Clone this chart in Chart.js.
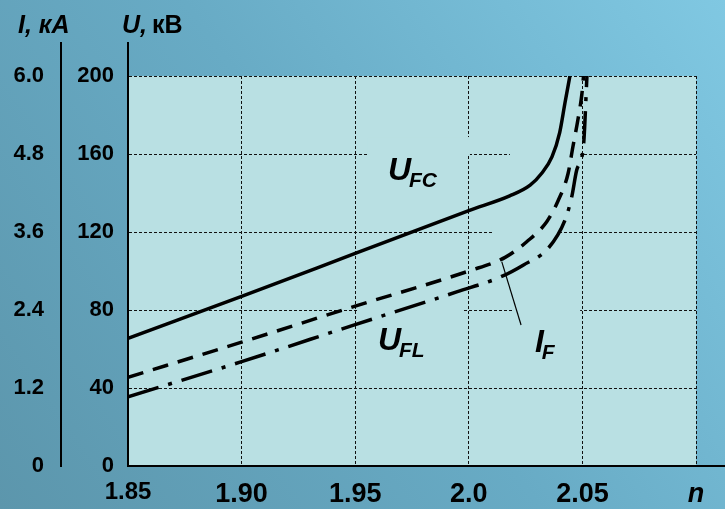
<!DOCTYPE html>
<html>
<head>
<meta charset="utf-8">
<script src="https://cdn.jsdelivr.net/npm/chart.js@4/dist/chart.umd.min.js"></script>
<style>
  html, body { margin: 0; padding: 0; background: #6aaac4; }
  canvas { display: block; }
</style>
</head>
<body>
<canvas id="c" width="725" height="509"></canvas>
<script>
// Multiplication factor n along the horizontal axis
const nTicks = [1.85, 1.90, 1.95, 2.00, 2.05, 2.10];
const nTickLabels = ['1.85', '1.90', '1.95', '2.0', '2.05', 'n'];

// Voltage scale (kV) and the matching current scale (kA)
const uTicks = [0, 40, 80, 120, 160, 200];
const uTickLabels = ['0', '40', '80', '120', '160', '200'];
const iTicks = [0, 1.2, 2.4, 3.6, 4.8, 6.0];
const iTickLabels = ['0', '1.2', '2.4', '3.6', '4.8', '6.0'];

// U_FC — solid curve
const nFC = [1.85, 1.90, 1.95, 2.00, 2.018, 2.027, 2.032, 2.0366, 2.040, 2.0423, 2.0445];
const uFC = [65.5, 87, 109, 131, 138.5, 144, 150, 158.5, 171, 186, 200];

// I_F — dashed curve (read on the voltage grid)
const nIF = [1.85, 1.90, 1.95, 2.00, 2.016, 2.0255, 2.0343, 2.0393, 2.0437, 2.0458, 2.048, 2.0498, 2.0505];
const uIF = [45.5, 63.5, 82, 100, 107, 115, 125.3, 136, 150, 163.6, 177.4, 191, 200];

// U_FL — dash-dot curve
const nFL = [1.85, 1.90, 1.95, 1.995, 2.0137, 2.0239, 2.0349, 2.0423, 2.0453, 2.0475, 2.0505, 2.052];
const uFL = [35.5, 53.5, 72.5, 89.4, 96.8, 103, 111.6, 126, 138, 151.8, 164.6, 200];

const FONT = "'Liberation Sans', Arial, sans-serif";
const PLOT_BG = '#b9e0e3';

// Curve captions: main letter, subscript, anchor in (n, U)
const captions = [
  { main: 'U', sub: 'FC', n: 1.9644, u: 146.7 },
  { main: 'U', sub: 'FL', n: 1.9600, u: 59.5 },
  { main: 'I', sub: 'F',  n: 2.0291, u: 58.5 }
];
// Leader line from the I_F curve to its caption
const leader = { n0: 2.0145, u0: 104.8, n1: 2.0230, u1: 72.3 };
// Opaque caption boxes that interrupt the grid (n0, n1, u0, u1)
const boxes = [
  [1.9552, 2.0005, 168.7, 159.0],
  [2.0181, 2.0490, 163.0, 157.0],
  [2.0102, 2.0393, 123.0, 117.0],
  [1.9508, 1.9970, 83.0, 77.0],
  [2.0195, 2.0490, 83.0, 77.0]
];

const pts = (xs, ys) => xs.map((x, i) => ({ x, y: ys[i] }));

const decor = {
  id: 'decor',
  beforeDraw(chart) {
    const { ctx, width, height, chartArea: a } = chart;
    ctx.save();
    const g = ctx.createLinearGradient(0, height, width, 0);
    g.addColorStop(0, '#5c96ac');
    g.addColorStop(0.5, '#68abc5');
    g.addColorStop(1, '#80c8e2');
    ctx.fillStyle = g;
    ctx.fillRect(0, 0, width, height);
    ctx.fillStyle = PLOT_BG;
    ctx.fillRect(a.left, a.top, a.right - a.left, a.bottom - a.top);
    ctx.restore();
  },
  beforeDatasetsDraw(chart) {
    const { ctx, scales: { x, yU } } = chart;
    ctx.save();
    ctx.fillStyle = PLOT_BG;
    boxes.forEach(([n0, n1, u0, u1]) => {
      const x0 = x.getPixelForValue(n0), x1 = x.getPixelForValue(n1);
      const y0 = yU.getPixelForValue(u0), y1 = yU.getPixelForValue(u1);
      ctx.fillRect(x0, y0, x1 - x0, y1 - y0);
    });
    ctx.restore();
  },
  afterDraw(chart) {
    const { ctx, width, chartArea: a, scales: { x, yU, yI } } = chart;
    ctx.save();
    ctx.strokeStyle = '#000';
    ctx.lineWidth = 2;
    // axis lines carried up to the titles, base line carried to the edge
    ctx.beginPath();
    ctx.moveTo(yI.right, a.top); ctx.lineTo(yI.right, 42);
    ctx.moveTo(yU.right, a.top); ctx.lineTo(yU.right, 42);
    ctx.moveTo(a.right, a.bottom); ctx.lineTo(width, a.bottom);
    ctx.stroke();

    // leader line
    ctx.lineWidth = 1.2;
    ctx.beginPath();
    ctx.moveTo(x.getPixelForValue(leader.n0), yU.getPixelForValue(leader.u0));
    ctx.lineTo(x.getPixelForValue(leader.n1), yU.getPixelForValue(leader.u1));
    ctx.stroke();

    // captions
    ctx.fillStyle = '#000';
    ctx.textBaseline = 'alphabetic';
    ctx.textAlign = 'left';
    captions.forEach(c => {
      const px = x.getPixelForValue(c.n), py = yU.getPixelForValue(c.u);
      ctx.font = `italic bold 32px ${FONT}`;
      ctx.fillText(c.main, px, py);
      const w = ctx.measureText(c.main).width;
      ctx.font = `italic bold 21px ${FONT}`;
      ctx.fillText(c.sub, px + w - 2, py + 7);
    });

    // axis titles
    ctx.font = `italic bold 25px ${FONT}`;
    ctx.fillText('I, кА', 18, 33);
    ctx.fillText('U,', 122, 33);
    const wu = ctx.measureText('U, ').width;
    ctx.font = `bold 25px ${FONT}`;
    ctx.fillText('кВ', 122 + wu - 2, 33);
    ctx.restore();
  }
};

const fixTicks = values => scale => { scale.ticks = values.map(v => ({ value: v })); };

new Chart(document.getElementById('c'), {
  type: 'line',
  data: {
    datasets: [
      { label: 'U_FC', data: pts(nFC, uFC), yAxisID: 'yU', borderColor: '#000', borderWidth: 3.5,
        pointRadius: 0, cubicInterpolationMode: 'monotone', fill: false },
      { label: 'I_F', data: pts(nIF, uIF), yAxisID: 'yU', borderColor: '#000', borderWidth: 3.5,
        borderDash: [16, 10], pointRadius: 0, cubicInterpolationMode: 'monotone', fill: false },
      { label: 'U_FL', data: pts(nFL, uFL), yAxisID: 'yU', borderColor: '#000', borderWidth: 3.5,
        borderDash: [32, 10, 4, 10], pointRadius: 0, cubicInterpolationMode: 'monotone', fill: false }
    ]
  },
  options: {
    responsive: false,
    devicePixelRatio: 1,
    animation: false,
    layout: { padding: { top: 76, right: 29, left: 0, bottom: 0 } },
    plugins: { legend: { display: false }, tooltip: { enabled: false } },
    scales: {
      x: {
        type: 'linear', min: 1.85, max: 2.10,
        afterBuildTicks: fixTicks(nTicks),
        afterFit: s => { s.height = 43; },
        grid: { color: '#111', lineWidth: 1, drawTicks: false },
        border: { display: true, color: '#000', width: 2, dash: [3, 2] },
        ticks: {
          color: '#000', padding: 12, maxRotation: 0, autoSkip: false,
          callback: (v, i) => nTickLabels[i],
          font: ctx => ({
            family: FONT,
            size: ctx.index === 0 ? 24 : 27,
            weight: 'bold',
            style: ctx.index === nTicks.length - 1 ? 'italic' : 'normal'
          })
        }
      },
      yU: {
        type: 'linear', position: 'left', min: 0, max: 200, weight: 0,
        afterBuildTicks: fixTicks(uTicks),
        afterFit: s => { s.width = 67; },
        grid: { color: '#111', lineWidth: 1, drawTicks: false },
        border: { display: true, color: '#000', width: 2, dash: [3, 2] },
        ticks: {
          color: '#000', padding: 14, autoSkip: false,
          callback: (v, i) => uTickLabels[i],
          font: { family: FONT, size: 22, weight: 'bold' }
        }
      },
      yI: {
        type: 'linear', position: 'left', min: 0, max: 6, weight: 1,
        afterBuildTicks: fixTicks(iTicks),
        afterFit: s => { s.width = 61; },
        grid: { drawOnChartArea: false, drawTicks: false },
        border: { display: true, color: '#000', width: 2 },
        ticks: {
          color: '#000', padding: 17, autoSkip: false,
          callback: (v, i) => iTickLabels[i],
          font: { family: FONT, size: 22, weight: 'bold' }
        }
      }
    }
  },
  plugins: [decor]
});
</script>
</body>
</html>
